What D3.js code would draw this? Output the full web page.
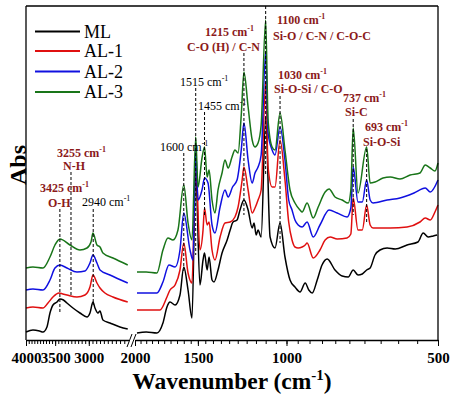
<!DOCTYPE html>
<html><head><meta charset="utf-8">
<script src="https://cdn.jsdelivr.net/npm/d3@7"></script>
<style>body{margin:0;background:#fff} svg{display:block}</style>
</head><body><svg id="c" width="454" height="398" font-family="'Liberation Serif', 'Times New Roman', Times, serif"></svg>
<script>
const seriesNames = ["ML","AL-1","AL-2","AL-3"];
const seriesColors = ["#000000","#e01010","#1010e0","#197519"];

// high-wavenumber segment (4000-2500 cm-1): [wavenumber, abs]
const mlHigh = [[4000,0.08],[3874,0.10],[3760,0.09],[3701,0.08],[3634,0.13],[3584,0.27],[3535,0.35],[3471,0.38],[3425,0.41],[3370,0.40],[3316,0.37],[3226,0.32],[3124,0.27],[3025,0.23],[2984,0.27],[2943,0.38],[2916,0.32],[2877,0.27],[2850,0.29],[2812,0.20],[2723,0.17],[2601,0.13],[2510,0.11]];
const al1High = [[4000,0.32],[3874,0.33],[3701,0.32],[3617,0.37],[3535,0.43],[3439,0.47],[3380,0.46],[3316,0.45],[3167,0.43],[3053,0.45],[2984,0.53],[2943,0.65],[2890,0.57],[2850,0.52],[2786,0.47],[2686,0.43],[2510,0.38]];
const al2High = [[4000,0.50],[3874,0.51],[3701,0.50],[3584,0.60],[3503,0.72],[3424,0.75],[3316,0.72],[3167,0.68],[3053,0.69],[2984,0.77],[2943,0.85],[2890,0.77],[2850,0.70],[2723,0.65],[2510,0.57]];
const al3High = [[4000,0.72],[3874,0.73],[3701,0.72],[3584,0.83],[3503,0.95],[3424,1.01],[3270,0.95],[3124,0.90],[3025,0.92],[2970,0.98],[2943,1.07],[2890,0.95],[2850,0.93],[2812,0.87],[2686,0.82],[2510,0.75]];

// low-wavenumber segment (2000-500 cm-1)
const mlLow = [[1982,0.07],[1900,0.08],[1809,0.07],[1760,0.17],[1728,0.33],[1704,0.38],[1665,0.35],[1628,0.45],[1600,0.73],[1569,0.50],[1541,0.22],[1515,1.70],[1486,0.55],[1465,0.80],[1455,0.87],[1438,0.70],[1425,0.83],[1406,0.60],[1393,0.58],[1368,0.70],[1343,0.87],[1312,1.00],[1294,1.10],[1277,1.18],[1254,1.20],[1237,1.30],[1215,1.40],[1192,1.30],[1170,1.12],[1160,1.17],[1149,1.05],[1139,1.10],[1123,1.03],[1100,2.23],[1078,1.03],[1054,0.92],[1030,1.17],[1007,0.83],[984,0.60],[962,0.53],[940,0.48],[918,0.57],[903,0.50],[889,0.47],[869,0.60],[850,0.75],[830,0.81],[801,0.70],[775,0.64],[754,0.63],[737,0.70],[721,0.65],[707,0.66],[693,0.70],[682,0.72],[667,0.85],[652,0.90],[631,0.92],[608,0.91],[576,0.95],[548,0.98],[535,1.07],[523,1.03],[511,1.04],[502,1.05]];
const al1Low = [[1982,0.30],[1900,0.30],[1784,0.30],[1728,0.43],[1704,0.50],[1665,0.55],[1628,0.70],[1600,0.97],[1569,0.67],[1541,0.57],[1515,1.80],[1486,0.90],[1465,1.10],[1455,1.32],[1438,1.15],[1425,1.18],[1406,0.90],[1387,0.80],[1355,1.03],[1325,1.17],[1294,1.18],[1266,1.23],[1248,1.33],[1225,1.60],[1215,1.73],[1192,1.50],[1170,1.27],[1155,1.32],[1139,1.40],[1123,1.50],[1100,2.58],[1088,1.73],[1068,1.53],[1054,1.53],[1030,2.00],[1007,1.60],[990,1.18],[975,1.00],[962,0.93],[948,0.92],[931,0.93],[918,0.95],[910,0.97],[885,0.82],[858,0.90],[838,1.00],[819,1.03],[793,1.01],[758,1.02],[745,1.06],[737,1.42],[721,1.10],[707,1.10],[693,1.35],[682,1.15],[673,1.12],[652,1.12],[622,1.12],[576,1.13],[543,1.18],[530,1.22],[518,1.20],[507,1.28],[500,1.35]];
const al2Low = [[1982,0.47],[1900,0.47],[1809,0.47],[1760,0.58],[1712,0.75],[1665,0.73],[1628,0.90],[1600,1.27],[1555,0.90],[1534,0.80],[1515,1.90],[1499,1.40],[1472,1.50],[1455,1.62],[1432,1.57],[1406,1.15],[1387,1.07],[1355,1.33],[1325,1.50],[1306,1.43],[1280,1.53],[1254,1.60],[1230,1.90],[1215,2.17],[1192,1.80],[1170,1.57],[1155,1.67],[1139,1.73],[1123,1.85],[1100,2.88],[1088,2.07],[1068,1.90],[1054,1.85],[1030,2.13],[1007,1.80],[990,1.40],[975,1.30],[962,1.20],[948,1.15],[931,1.13],[910,1.18],[885,1.03],[858,1.15],[823,1.30],[793,1.27],[758,1.23],[745,1.32],[737,1.73],[721,1.38],[707,1.38],[693,1.60],[682,1.40],[673,1.37],[631,1.40],[595,1.42],[558,1.47],[530,1.52],[518,1.48],[500,1.60]];
const al3Low = [[1982,0.68],[1900,0.68],[1809,0.67],[1760,0.90],[1720,1.02],[1681,1.00],[1643,1.10],[1600,1.55],[1569,1.17],[1541,1.00],[1515,2.03],[1499,1.53],[1472,1.82],[1455,1.93],[1438,1.63],[1425,1.70],[1406,1.40],[1387,1.27],[1368,1.50],[1343,1.67],[1325,1.80],[1306,1.72],[1283,1.83],[1266,1.90],[1248,1.87],[1230,2.25],[1215,2.68],[1192,2.33],[1170,2.00],[1155,1.93],[1139,1.97],[1123,2.15],[1100,3.20],[1088,2.20],[1068,1.93],[1054,1.90],[1030,2.27],[1007,1.90],[984,1.50],[962,1.37],[940,1.30],[931,1.28],[910,1.37],[885,1.22],[865,1.33],[838,1.48],[823,1.51],[801,1.43],[775,1.40],[754,1.37],[745,1.50],[737,2.12],[721,1.47],[693,1.93],[682,1.57],[667,1.58],[643,1.62],[622,1.63],[595,1.61],[568,1.65],[543,1.67],[530,1.75],[518,1.72],[507,1.69],[500,1.77]];

const highTicks = [4000,3500,3000];
const lowTicks = [2000,1500,1000,500];

// peak annotations
const peakWavenumbers = [3255,3425,2940,1600,1515,1455,1215,1100,1030,737,693];
const peakNumbers = ["3255","3425","2940","1600","1515","1455","1215","1100","1030","737","693"];
const peakAssignments = ["N-H","O-H","","","","","C-O (H) / C-N","Si-O / C-N / C-O-C","Si-O-Si / C-O","Si-C","Si-O-Si"];
const peakHighlighted = [true,true,false,false,false,false,true,true,true,true,true];

(function(){
const FONT = "'Liberation Serif', 'Times New Roman', Times, serif";
const svg = d3.select("#c");
const mL = 26, mR = 438, mT = 6, mB = 340;

const xHigh = d3.scaleLog().domain([4000,2500]).range([mL,128.6]);
const xLow = d3.scaleLog().domain([2000,500]).range([135,mR]);
const y = d3.scaleLinear().domain([0,3.34]).range([mB,mT]);

const highData = [mlHigh, al1High, al2High, al3High];
const lowData = [mlLow, al1Low, al2Low, al3Low];

const lineHigh = d3.line().x(d=>xHigh(d[0])).y(d=>y(d[1])).curve(d3.curveMonotoneX);
const lineLow = d3.line().x(d=>xLow(d[0])).y(d=>y(d[1])).curve(d3.curveMonotoneX);

const gLines = svg.append("g");
highData.forEach((s,i)=>{
  gLines.append("path").attr("d", lineHigh(s)).attr("fill","none").attr("stroke",seriesColors[i]).attr("stroke-width",1.5).attr("stroke-linejoin","round");
});
lowData.forEach((s,i)=>{
  gLines.append("path").attr("d", lineLow(s)).attr("fill","none").attr("stroke",seriesColors[i]).attr("stroke-width",1.5).attr("stroke-linejoin","round");
});

// frame
svg.append("line").attr("x1",mL).attr("x2",mL).attr("y1",mT).attr("y2",mB).attr("stroke","#000").attr("stroke-width",1.3);
svg.append("line").attr("x1",mL).attr("x2",mR).attr("y1",mT).attr("y2",mT).attr("stroke","#000").attr("stroke-width",1.3);
svg.append("line").attr("x1",mR).attr("x2",mR).attr("y1",mT).attr("y2",mB).attr("stroke","#000").attr("stroke-width",1.3);

// bottom axes
const minorHigh = d3.range(4000, 2500, -50);
const minorLow = d3.range(2000, 499, -50);
const axHigh = d3.axisBottom(xHigh).tickValues(minorHigh).tickSize(4).tickSizeOuter(0).tickFormat("");
const axLow = d3.axisBottom(xLow).tickValues(minorLow).tickSize(4).tickSizeOuter(0).tickFormat("");
function styleAxis(g){ g.attr("font-family",FONT); g.select(".domain").attr("stroke","#000").attr("stroke-width",1.3); g.selectAll(".tick line").attr("stroke","#000"); }
svg.append("g").attr("transform",`translate(0,${mB})`).call(axHigh).call(styleAxis);
svg.append("g").attr("transform",`translate(0,${mB})`).call(axLow).call(styleAxis);
const majHigh = d3.axisBottom(xHigh).tickValues(highTicks).tickSize(6).tickPadding(6).tickFormat(d3.format("d"));
const majLow = d3.axisBottom(xLow).tickValues(lowTicks).tickSize(6).tickPadding(6).tickFormat(d3.format("d"));
function styleMaj(g){ g.attr("font-family",FONT); g.select(".domain").remove(); g.selectAll(".tick line").attr("stroke","#000"); g.selectAll(".tick text").attr("font-family",FONT).attr("font-weight","bold").attr("font-size",15).attr("fill","#000"); }
svg.append("g").attr("transform",`translate(0,${mB})`).call(majHigh).call(styleMaj);
svg.append("g").attr("transform",`translate(0,${mB})`).call(majLow).call(styleMaj);
// break marks
svg.append("line").attr("x1",127).attr("x2",132).attr("y1",347).attr("y2",334).attr("stroke","#000").attr("stroke-width",1);
svg.append("line").attr("x1",131).attr("x2",136).attr("y1",347).attr("y2",334).attr("stroke","#000").attr("stroke-width",1);

// axis titles
svg.append("text").attr("transform","translate(26,165) rotate(-90)").attr("text-anchor","middle")
  .attr("font-family",FONT).attr("font-size",24).attr("font-weight","bold").text("Abs");
const xt = svg.append("text").attr("x",232).attr("y",389).attr("text-anchor","middle").attr("font-family",FONT).attr("font-size",23.5).attr("font-weight","bold");
xt.append("tspan").text("Wavenumber (cm");
xt.append("tspan").attr("dy",-9).attr("font-size",15).text("-1");
xt.append("tspan").attr("dy",9).text(")");

// legend
const legRows = [31.5, 51, 71.5, 92];
seriesNames.forEach((n,i)=>{
  svg.append("line").attr("x1",35).attr("x2",80).attr("y1",legRows[i]).attr("y2",legRows[i]).attr("stroke",seriesColors[i]).attr("stroke-width",2);
  svg.append("text").attr("x",84).attr("y",legRows[i]+6).attr("font-family",FONT).attr("font-size",18).text(n);
});

// annotations: [numX, numY, assignX, assignY, lineY1, lineY2]
const annLayout = [
  [57,157,63,170,172,295],
  [40,192,48,207,209,313],
  [82,206,0,0,209,305],
  [160,151,0,0,153,272],
  [180,86,0,0,88,255],
  [198,110,0,0,112,215],
  [205,36,187,51,53,215],
  [277,24,273,40,6,175],
  [278,79,274,93,96,243],
  [343,102,345,116,119,215],
  [365,131,363,146,149,222]
];
const darkRed = "#8b1a1a";
peakWavenumbers.forEach((wn,i)=>{
  const L = annLayout[i];
  const xs = wn > 2200 ? xHigh(wn) : xLow(wn);
  svg.append("line").attr("x1",xs).attr("x2",xs).attr("y1",L[4]).attr("y2",L[5])
    .attr("stroke","#000").attr("stroke-width",1).attr("stroke-dasharray","3,2");
  const hl = peakHighlighted[i];
  const t = svg.append("text").attr("x",L[0]).attr("y",L[1]).attr("font-family",FONT).attr("font-size",12)
    .attr("font-weight",hl?"bold":"normal").attr("fill",hl?darkRed:"#000");
  t.append("tspan").text(peakNumbers[i]+" cm");
  t.append("tspan").attr("dy",-5).attr("font-size",8).text("-1");
  if (peakAssignments[i]) {
    svg.append("text").attr("x",L[2]).attr("y",L[3]).attr("font-family",FONT).attr("font-size",12).attr("font-weight","bold")
      .attr("fill",darkRed).text(peakAssignments[i]);
  }
});
})();
</script></body></html>
